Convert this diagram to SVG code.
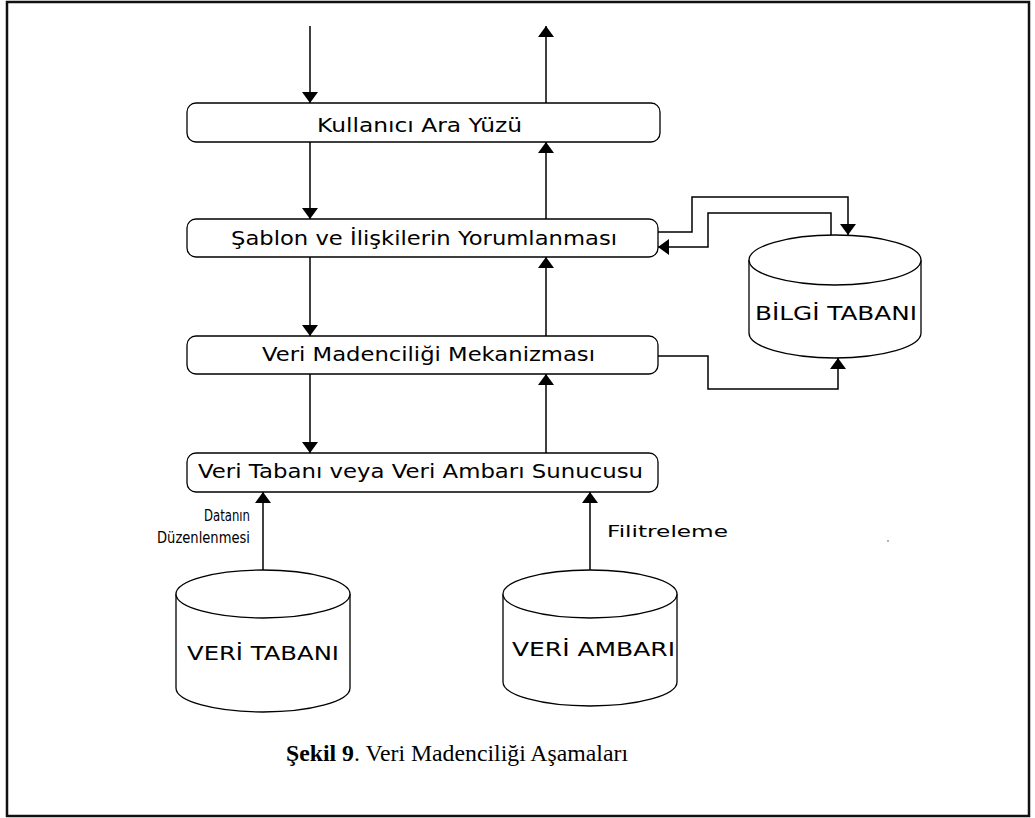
<svg xmlns="http://www.w3.org/2000/svg" width="1035" height="818" viewBox="0 0 1035 818">
<style>
.box{fill:#fff;stroke:#000;stroke-width:1.3}
.cyl{fill:#fff;stroke:#000;stroke-width:1.3}
.lbl{font-family:"DejaVu Sans",Verdana,sans-serif;font-size:20px;fill:#000}
.sm{font-family:"DejaVu Sans",Verdana,sans-serif;font-size:15px;fill:#000}
.con{fill:none;stroke:#000;stroke-width:1.5;marker-end:url(#ah)}
.cap{font-family:"Liberation Serif","Times New Roman",serif;font-size:23.5px;fill:#000}
</style>
<defs>
<marker id="ah" viewBox="0 0 10 10" refX="10" refY="5" markerWidth="11" markerHeight="16" markerUnits="userSpaceOnUse" orient="auto" preserveAspectRatio="none">
<path d="M0,0 L10,5 L0,10 z" fill="#000"/>
</marker>
</defs>
<rect x="0" y="0" width="1035" height="818" fill="#fff"/>
<rect x="7" y="2" width="1022" height="814" fill="none" stroke="#111" stroke-width="2.5"/>

<g id="connectors">
<line class="con" x1="310" y1="26" x2="310" y2="103"/>
<line class="con" x1="546" y1="103" x2="546" y2="26"/>
<line class="con" x1="310" y1="142" x2="310" y2="219"/>
<line class="con" x1="546" y1="219" x2="546" y2="142"/>
<line class="con" x1="310" y1="257" x2="310" y2="336"/>
<line class="con" x1="546" y1="336" x2="546" y2="257"/>
<line class="con" x1="310" y1="374" x2="310" y2="453"/>
<line class="con" x1="546" y1="453" x2="546" y2="374"/>
<line class="con" x1="263" y1="570" x2="263" y2="492"/>
<line class="con" x1="590" y1="570" x2="590" y2="492"/>
<polyline class="con" points="658,232 692,232 692,197 848,197 848,235"/>
<polyline class="con" points="831,235 831,213 708,213 708,247 658,247"/>
<polyline class="con" points="658,356 708,356 708,389 838,389 838,358"/>
<text class="sm" x="250" y="521" text-anchor="end" textLength="46" lengthAdjust="spacingAndGlyphs">Datanın</text>
<text class="sm" x="250" y="543" text-anchor="end" textLength="93" lengthAdjust="spacingAndGlyphs">Düzenlenmesi</text>
<text class="sm" x="607" y="537" textLength="121" lengthAdjust="spacingAndGlyphs">Filitreleme</text>
</g>

<g id="n-kullanici">
<rect class="box" x="187" y="103" width="473" height="39" rx="9"/>
<text class="lbl" x="317" y="132" textLength="205" lengthAdjust="spacingAndGlyphs">Kullanıcı Ara Yüzü</text>
</g>
<g id="n-sablon">
<rect class="box" x="187" y="219" width="471" height="38" rx="9"/>
<text class="lbl" x="231" y="245" textLength="386" lengthAdjust="spacingAndGlyphs">Şablon ve İlişkilerin Yorumlanması</text>
</g>
<g id="n-mekanizma">
<rect class="box" x="187" y="336" width="471" height="38" rx="9"/>
<text class="lbl" x="262" y="361" textLength="333" lengthAdjust="spacingAndGlyphs">Veri Madenciliği Mekanizması</text>
</g>
<g id="n-sunucu">
<rect class="box" x="187" y="453" width="471" height="39" rx="9"/>
<text class="lbl" x="198" y="478" textLength="445" lengthAdjust="spacingAndGlyphs">Veri Tabanı veya Veri Ambarı Sunucusu</text>
</g>
<g id="n-bilgi">
<path class="cyl" d="M749,260 A86,25 0 0 1 921,260 L921,333 A86,25 0 0 1 749,333 Z"/>
<path class="cyl" d="M749,260 A86,25 0 0 0 921,260"/>
<text class="lbl" x="755" y="320" textLength="162" lengthAdjust="spacingAndGlyphs">BİLGİ TABANI</text>
</g>
<g id="n-veritabani">
<path class="cyl" d="M176,594 A87,24 0 0 1 350,594 L350,688 A87,24 0 0 1 176,688 Z"/>
<path class="cyl" d="M176,594 A87,24 0 0 0 350,594"/>
<text class="lbl" x="187" y="660" textLength="152" lengthAdjust="spacingAndGlyphs">VERİ TABANI</text>
</g>
<g id="n-veriambari">
<path class="cyl" d="M503,594 A87,24 0 0 1 677,594 L677,682 A87,24 0 0 1 503,682 Z"/>
<path class="cyl" d="M503,594 A87,24 0 0 0 677,594"/>
<text class="lbl" x="512" y="656" textLength="163" lengthAdjust="spacingAndGlyphs">VERİ AMBARI</text>
</g>
<circle cx="888" cy="541" r="0.8" fill="#555"/>
<text class="cap" x="286" y="761" textLength="342" lengthAdjust="spacingAndGlyphs"><tspan font-weight="bold">Şekil 9</tspan>. Veri Madenciliği Aşamaları</text>
</svg>
